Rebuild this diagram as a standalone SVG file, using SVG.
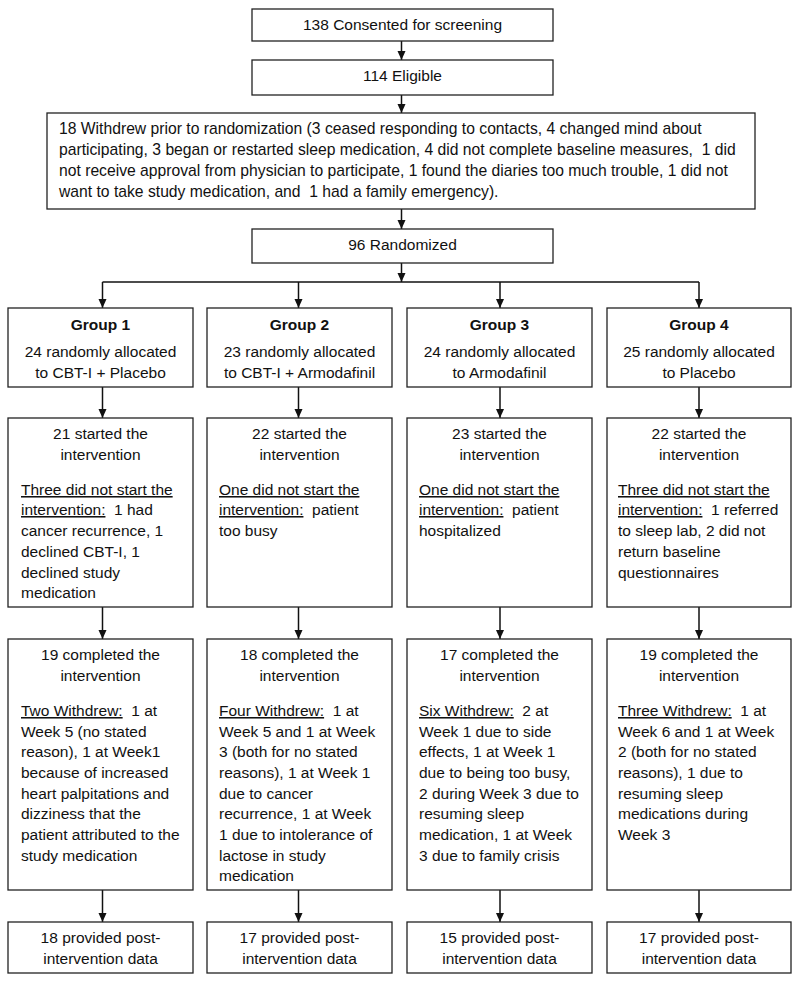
<svg xmlns="http://www.w3.org/2000/svg" width="800" height="983" viewBox="0 0 800 983">
<style>
  .box { fill: #fff; stroke: #222; stroke-width: 1.3; }
  .t { font-family: "Liberation Sans", Arial, sans-serif; font-size: 15.5px; fill: #111; }
  .w { font-size: 15.7px; }
  .c { text-anchor: middle; }
  .b { font-weight: bold; }
  .u { text-decoration: underline; }
  .ln { stroke: #111; stroke-width: 1.5; fill: none; }
  .ar { stroke: #111; stroke-width: 1.5; fill: none; marker-end: url(#ah); }
</style>
<defs>
  <marker id="ah" markerUnits="userSpaceOnUse" markerWidth="10" markerHeight="10" refX="9" refY="5" orient="auto">
    <path d="M0,1 L9,5 L0,9 Z" fill="#111"/>
  </marker>
</defs>
<rect width="800" height="983" fill="#fff"/>

<g id="connectors">
  <line class="ar" x1="401.5" y1="41" x2="401.5" y2="60"/>
  <line class="ar" x1="401.5" y1="95" x2="401.5" y2="113"/>
  <line class="ar" x1="401.5" y1="209" x2="401.5" y2="229"/>
  <line class="ar" x1="401.5" y1="263" x2="401.5" y2="282"/>
  <line class="ln" x1="102.5" y1="282" x2="699" y2="282"/>
  <line class="ar" x1="102.5" y1="282" x2="102.5" y2="308"/>
  <line class="ar" x1="298.5" y1="282" x2="298.5" y2="308"/>
  <line class="ar" x1="500" y1="282" x2="500" y2="308"/>
  <line class="ar" x1="699" y1="282" x2="699" y2="308"/>
  <line class="ar" x1="102.5" y1="387" x2="102.5" y2="418"/>
  <line class="ar" x1="298.5" y1="387" x2="298.5" y2="418"/>
  <line class="ar" x1="500" y1="387" x2="500" y2="418"/>
  <line class="ar" x1="699" y1="387" x2="699" y2="418"/>
  <line class="ar" x1="102.5" y1="607" x2="102.5" y2="639"/>
  <line class="ar" x1="298.5" y1="607" x2="298.5" y2="639"/>
  <line class="ar" x1="500" y1="607" x2="500" y2="639"/>
  <line class="ar" x1="699" y1="607" x2="699" y2="639"/>
  <line class="ar" x1="102.5" y1="890" x2="102.5" y2="922"/>
  <line class="ar" x1="298.5" y1="890" x2="298.5" y2="922"/>
  <line class="ar" x1="500" y1="890" x2="500" y2="922"/>
  <line class="ar" x1="699" y1="890" x2="699" y2="922"/>
</g>

<g id="consented">
  <rect class="box" x="252" y="9" width="301" height="32"/>
  <text class="t c" x="402.5" y="30">138 Consented for screening</text>
</g>
<g id="eligible">
  <rect class="box" x="252" y="60" width="301" height="35"/>
  <text class="t c" x="402.5" y="81">114 Eligible</text>
</g>
<g id="withdrew">
  <rect class="box" x="47" y="113" width="708" height="96"/>
  <text class="t w" x="59" y="134" xml:space="preserve">18 Withdrew prior to randomization (3 ceased responding to contacts, 4 changed mind about</text>
  <text class="t w" x="59" y="155" xml:space="preserve">participating, 3 began or restarted sleep medication, 4 did not complete baseline measures,  1 did</text>
  <text class="t w" x="59" y="176" xml:space="preserve">not receive approval from physician to participate, 1 found the diaries too much trouble, 1 did not</text>
  <text class="t w" x="59" y="197" xml:space="preserve">want to take study medication, and  1 had a family emergency).</text>
</g>
<g id="randomized">
  <rect class="box" x="252" y="229" width="301" height="34"/>
  <text class="t c" x="402.5" y="250">96 Randomized</text>
</g>

<!-- Group boxes -->
<g id="group1">
  <rect class="box" x="8" y="308" width="185" height="79"/>
  <text class="t c b" x="100.5" y="330">Group 1</text>
  <text class="t c" x="100.5" y="357">24 randomly allocated</text>
  <text class="t c" x="100.5" y="378">to CBT-I + Placebo</text>
</g>
<g id="group2">
  <rect class="box" x="207" y="308" width="185" height="79"/>
  <text class="t c b" x="299.5" y="330">Group 2</text>
  <text class="t c" x="299.5" y="357">23 randomly allocated</text>
  <text class="t c" x="299.5" y="378">to CBT-I + Armodafinil</text>
</g>
<g id="group3">
  <rect class="box" x="407" y="308" width="185" height="79"/>
  <text class="t c b" x="499.5" y="330">Group 3</text>
  <text class="t c" x="499.5" y="357">24 randomly allocated</text>
  <text class="t c" x="499.5" y="378">to Armodafinil</text>
</g>
<g id="group4">
  <rect class="box" x="607" y="308" width="184" height="79"/>
  <text class="t c b" x="699" y="330">Group 4</text>
  <text class="t c" x="699" y="357">25 randomly allocated</text>
  <text class="t c" x="699" y="378">to Placebo</text>
</g>

<!-- Started boxes -->
<g id="started1">
  <rect class="box" x="8" y="418" width="185" height="189"/>
  <text class="t c" x="100.5" y="439">21 started the</text>
  <text class="t c" x="100.5" y="460">intervention</text>
  <text class="t" x="21" y="495" xml:space="preserve"><tspan class="u">Three did not start the</tspan></text>
  <text class="t" x="21" y="515" xml:space="preserve"><tspan class="u">intervention:</tspan>  1 had</text>
  <text class="t" x="21" y="536">cancer recurrence, 1</text>
  <text class="t" x="21" y="557">declined CBT-I, 1</text>
  <text class="t" x="21" y="578">declined study</text>
  <text class="t" x="21" y="598">medication</text>
</g>
<g id="started2">
  <rect class="box" x="207" y="418" width="185" height="189"/>
  <text class="t c" x="299.5" y="439">22 started the</text>
  <text class="t c" x="299.5" y="460">intervention</text>
  <text class="t" x="219" y="495" xml:space="preserve"><tspan class="u">One did not start the</tspan></text>
  <text class="t" x="219" y="515" xml:space="preserve"><tspan class="u">intervention:</tspan>  patient</text>
  <text class="t" x="219" y="536">too busy</text>
</g>
<g id="started3">
  <rect class="box" x="407" y="418" width="185" height="189"/>
  <text class="t c" x="499.5" y="439">23 started the</text>
  <text class="t c" x="499.5" y="460">intervention</text>
  <text class="t" x="419" y="495" xml:space="preserve"><tspan class="u">One did not start the</tspan></text>
  <text class="t" x="419" y="515" xml:space="preserve"><tspan class="u">intervention:</tspan>  patient</text>
  <text class="t" x="419" y="536">hospitalized</text>
</g>
<g id="started4">
  <rect class="box" x="607" y="418" width="184" height="189"/>
  <text class="t c" x="699" y="439">22 started the</text>
  <text class="t c" x="699" y="460">intervention</text>
  <text class="t" x="618" y="495" xml:space="preserve"><tspan class="u">Three did not start the</tspan></text>
  <text class="t" x="618" y="515" xml:space="preserve"><tspan class="u">intervention:</tspan>  1 referred</text>
  <text class="t" x="618" y="536">to sleep lab, 2 did not</text>
  <text class="t" x="618" y="557">return baseline</text>
  <text class="t" x="618" y="578">questionnaires</text>
</g>

<!-- Completed boxes -->
<g id="completed1">
  <rect class="box" x="8" y="639" width="185" height="251"/>
  <text class="t c" x="100.5" y="660">19 completed the</text>
  <text class="t c" x="100.5" y="681">intervention</text>
  <text class="t" x="21" y="716" xml:space="preserve"><tspan class="u">Two Withdrew:</tspan>  1 at</text>
  <text class="t" x="21" y="737">Week 5 (no stated</text>
  <text class="t" x="21" y="757">reason), 1 at Week1</text>
  <text class="t" x="21" y="778">because of increased</text>
  <text class="t" x="21" y="799">heart palpitations and</text>
  <text class="t" x="21" y="819">dizziness that the</text>
  <text class="t" x="21" y="840">patient attributed to the</text>
  <text class="t" x="21" y="861">study medication</text>
</g>
<g id="completed2">
  <rect class="box" x="207" y="639" width="185" height="251"/>
  <text class="t c" x="299.5" y="660">18 completed the</text>
  <text class="t c" x="299.5" y="681">intervention</text>
  <text class="t" x="219" y="716" xml:space="preserve"><tspan class="u">Four Withdrew:</tspan>  1 at</text>
  <text class="t" x="219" y="737">Week 5 and 1 at Week</text>
  <text class="t" x="219" y="757">3 (both for no stated</text>
  <text class="t" x="219" y="778">reasons), 1 at Week 1</text>
  <text class="t" x="219" y="799">due to cancer</text>
  <text class="t" x="219" y="819">recurrence, 1 at Week</text>
  <text class="t" x="219" y="840">1 due to intolerance of</text>
  <text class="t" x="219" y="861">lactose in study</text>
  <text class="t" x="219" y="881">medication</text>
</g>
<g id="completed3">
  <rect class="box" x="407" y="639" width="185" height="251"/>
  <text class="t c" x="499.5" y="660">17 completed the</text>
  <text class="t c" x="499.5" y="681">intervention</text>
  <text class="t" x="419" y="716" xml:space="preserve"><tspan class="u">Six Withdrew:</tspan>  2 at</text>
  <text class="t" x="419" y="737">Week 1 due to side</text>
  <text class="t" x="419" y="757">effects, 1 at Week 1</text>
  <text class="t" x="419" y="778">due to being too busy,</text>
  <text class="t" x="419" y="799">2 during Week 3 due to</text>
  <text class="t" x="419" y="819">resuming sleep</text>
  <text class="t" x="419" y="840">medication, 1 at Week</text>
  <text class="t" x="419" y="861">3 due to family crisis</text>
</g>
<g id="completed4">
  <rect class="box" x="607" y="639" width="184" height="251"/>
  <text class="t c" x="699" y="660">19 completed the</text>
  <text class="t c" x="699" y="681">intervention</text>
  <text class="t" x="618" y="716" xml:space="preserve"><tspan class="u">Three Withdrew:</tspan>  1 at</text>
  <text class="t" x="618" y="737">Week 6 and 1 at Week</text>
  <text class="t" x="618" y="757">2 (both for no stated</text>
  <text class="t" x="618" y="778">reasons), 1 due to</text>
  <text class="t" x="618" y="799">resuming sleep</text>
  <text class="t" x="618" y="819">medications during</text>
  <text class="t" x="618" y="840">Week 3</text>
</g>

<!-- Final boxes -->
<g id="final1">
  <rect class="box" x="8" y="922" width="185" height="51"/>
  <text class="t c" x="100.5" y="943">18 provided post-</text>
  <text class="t c" x="100.5" y="964">intervention data</text>
</g>
<g id="final2">
  <rect class="box" x="207" y="922" width="185" height="51"/>
  <text class="t c" x="299.5" y="943">17 provided post-</text>
  <text class="t c" x="299.5" y="964">intervention data</text>
</g>
<g id="final3">
  <rect class="box" x="407" y="922" width="185" height="51"/>
  <text class="t c" x="499.5" y="943">15 provided post-</text>
  <text class="t c" x="499.5" y="964">intervention data</text>
</g>
<g id="final4">
  <rect class="box" x="607" y="922" width="184" height="51"/>
  <text class="t c" x="699" y="943">17 provided post-</text>
  <text class="t c" x="699" y="964">intervention data</text>
</g>
</svg>
